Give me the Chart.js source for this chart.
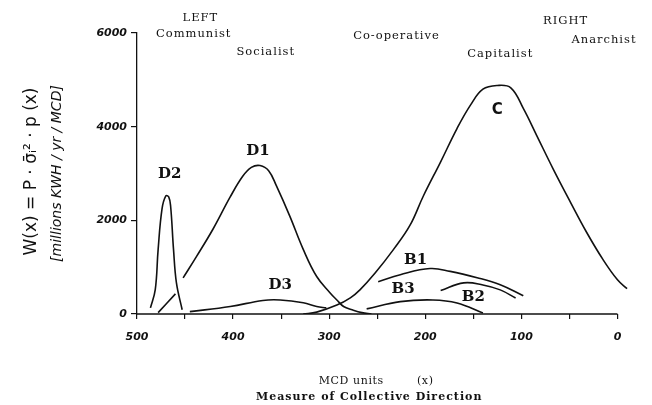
<!DOCTYPE html>
<html>
<head>
<meta charset="utf-8">
<script src="https://cdn.jsdelivr.net/npm/chart.js@4.4.0/dist/chart.umd.min.js"></script>
<style>
  html, body { margin: 0; padding: 0; background: #fff; }
</style>
</head>
<body>
<canvas id="mcd" width="652" height="405"></canvas>
<script>
// MCD units run from 500 (left) to 0 (right); W(x) in millions KWH / yr / MCD
const d2X = [486, 481, 478, 474, 470, 467, 465, 462, 459, 453];
const d2Y = [130, 520, 1380, 2240, 2520, 2500, 2300, 1380, 670, 90];

const d1X = [478, 460, 456, 452, 438, 421, 403, 390, 381, 372, 363, 355, 341, 327, 313, 299, 292, 285, 276, 266, 256];
const d1Y = [30, 430, null, 770, 1230, 1810, 2500, 2940, 3130, 3170, 3060, 2740, 2090, 1380, 800, 450, 300, 160, 90, 30, 0];

const d3X = [445, 403, 369, 351, 327, 313, 303];
const d3Y = [50, 160, 290, 300, 240, 160, 130];

const cX = [327, 313, 292, 278, 268, 252, 233, 216, 202, 184, 167, 153, 140, 125, 111, 98, 84, 67, 49, 32, 15, 0, -10];
const cY = [0, 40, 190, 345, 515, 880, 1380, 1890, 2520, 3250, 3960, 4460, 4800, 4880, 4830, 4390, 3810, 3100, 2390, 1740, 1160, 730, 540];

const b1X = [249, 226, 195, 174, 146, 122, 98];
const b1Y = [690, 840, 970, 910, 775, 625, 390];

const b2X = [184, 160, 140, 122, 106];
const b2Y = [500, 665, 620, 515, 340];

const b3X = [261, 226, 192, 167, 140];
const b3Y = [110, 265, 300, 235, 20];

// curve names and where they are written (data units)
const curveNames = ['D1', 'D2', 'D3', 'C', 'B1', 'B2', 'B3'];
const curveNameX = [374, 466, 351, 125, 210, 150, 223];
const curveNameY = [3480, 2990, 620, 4350, 1160, 370, 540];

// political labels along the top
const sideNames = ['LEFT', 'Communist', 'Socialist', 'Co-operative', 'Capitalist', 'RIGHT', 'Anarchist'];
const sideNameX = [434, 441, 366, 230, 122, 54, 14];
const sideNameY = [6320, 5980, 5590, 5935, 5550, 6255, 5850];

const xTickStep = 50;
const xLabelEvery = 100;
const yTicks = [0, 2000, 4000, 6000];

function pts(xs, ys) {
  return xs.map((x, i) => ({ x: x, y: ys[i] }));
}

function curve(label, xs, ys) {
  return {
    label: label,
    data: pts(xs, ys),
    borderColor: '#111',
    borderWidth: 1.6,
    pointRadius: 0,
    fill: false,
    tension: 0.4,
    spanGaps: false
  };
}

const annotate = {
  id: 'annotate',
  afterDraw(chart) {
    const ctx = chart.ctx;
    const xs = chart.scales.x;
    const ys = chart.scales.y;
    const spacing = (v) => { if ('letterSpacing' in ctx) ctx.letterSpacing = v; };
    ctx.save();
    ctx.fillStyle = '#111';
    ctx.strokeStyle = '#111';
    ctx.textAlign = 'center';
    ctx.textBaseline = 'middle';

    // x axis line, only from 500 to 0
    ctx.lineWidth = 1.3;
    ctx.beginPath();
    ctx.moveTo(xs.getPixelForValue(500), ys.bottom);
    ctx.lineTo(xs.getPixelForValue(0), ys.bottom);
    ctx.stroke();

    // curve names
    curveNames.forEach((n, i) => {
      ctx.font = n === 'C' ? 'bold 15px "DejaVu Sans"' : 'bold 15px "DejaVu Serif"';
      ctx.fillText(n, xs.getPixelForValue(curveNameX[i]), ys.getPixelForValue(curveNameY[i]));
    });

    // LEFT ... RIGHT labels
    ctx.font = '11.5px "DejaVu Serif"';
    spacing('1px');
    sideNames.forEach((n, i) => {
      ctx.fillText(n, xs.getPixelForValue(sideNameX[i]), ys.getPixelForValue(sideNameY[i]));
    });

    // x axis title
    const mid = xs.getPixelForValue(250);
    ctx.font = '11px "DejaVu Serif"';
    spacing('0.6px');
    ctx.fillText('MCD units', mid - 26, ys.bottom + 67);
    ctx.fillText('(x)', mid + 48, ys.bottom + 67);
    ctx.font = 'bold 11px "DejaVu Serif"';
    spacing('1px');
    ctx.fillText('Measure of Collective Direction', mid - 8, ys.bottom + 83);
    spacing('0px');

    // y axis title, two rotated lines
    const midY = (ys.top + ys.bottom) / 2;
    ctx.save();
    ctx.translate(32, midY - 2);
    ctx.rotate(-Math.PI / 2);
    ctx.font = '17px "DejaVu Sans"';
    ctx.fillText('W(x) = P · σ̄ᵢ² · p (x)', 0, 0);
    ctx.restore();
    ctx.save();
    ctx.translate(57, midY);
    ctx.rotate(-Math.PI / 2);
    ctx.font = 'italic 14px "DejaVu Sans"';
    ctx.fillText('[millions KWH / yr / MCD]', 0, 0);
    ctx.restore();

    ctx.restore();
  }
};

new Chart(document.getElementById('mcd'), {
  type: 'line',
  data: {
    datasets: [
      curve('D2', d2X, d2Y),
      curve('D1', d1X, d1Y),
      curve('D3', d3X, d3Y),
      curve('C', cX, cY),
      curve('B1', b1X, b1Y),
      curve('B2', b2X, b2Y),
      curve('B3', b3X, b3Y)
    ]
  },
  options: {
    responsive: false,
    animation: false,
    devicePixelRatio: 1,
    layout: { padding: { top: 33, right: 23, left: 0, bottom: 0 } },
    plugins: {
      legend: { display: false },
      tooltip: { enabled: false }
    },
    scales: {
      x: {
        type: 'linear',
        reverse: true,
        min: -12,
        max: 500,
        afterFit(scale) { scale.height = 91; },
        afterBuildTicks(scale) {
          const t = [];
          for (let v = 0; v <= 500; v += xTickStep) t.push({ value: v });
          scale.ticks = t;
        },
        border: { display: false },
        grid: { drawOnChartArea: false, drawTicks: true, tickLength: 5, color: '#111', lineWidth: 1.2 },
        ticks: {
          padding: 12,
          maxRotation: 0,
          autoSkip: false,
          color: '#111',
          font: { family: 'DejaVu Sans', size: 11, style: 'italic', weight: 'bold' },
          callback: (v) => (v % xLabelEvery === 0 ? String(v) : '')
        }
      },
      y: {
        min: 0,
        max: 6000,
        afterFit(scale) { scale.width = 137; },
        afterBuildTicks(scale) {
          scale.ticks = yTicks.map(v => ({ value: v }));
        },
        border: { display: true, color: '#111', width: 1.3 },
        grid: { drawOnChartArea: false, drawTicks: true, tickLength: 6, color: '#111', lineWidth: 1.2 },
        ticks: {
          padding: 4,
          color: '#111',
          font: { family: 'DejaVu Sans', size: 11, style: 'italic', weight: 'bold' },
          callback: (v) => String(v)
        }
      }
    }
  },
  plugins: [annotate]
});
</script>
</body>
</html>
